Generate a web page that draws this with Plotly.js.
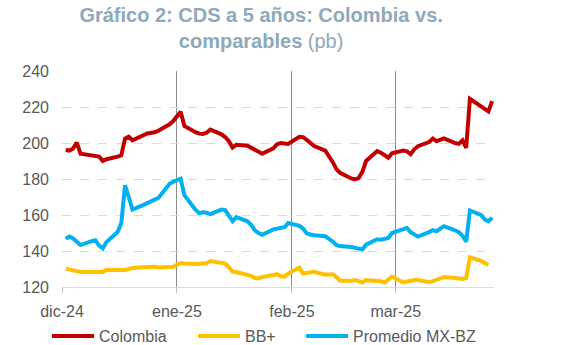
<!DOCTYPE html>
<html>
<head>
<meta charset="utf-8">
<script src="https://cdn.plot.ly/plotly-3.0.1.min.js"></script>
<style>html,body{margin:0;padding:0;background:#fff;}#chart{width:564px;height:345px;}</style>
</head>
<body>
<div id="chart"></div>
<script>
const dates = [
 '2024-12-02','2024-12-03','2024-12-04','2024-12-05','2024-12-06',
 '2024-12-09','2024-12-10','2024-12-11','2024-12-12','2024-12-13',
 '2024-12-16','2024-12-17','2024-12-18','2024-12-19','2024-12-20',
 '2024-12-23','2024-12-24','2024-12-26','2024-12-27',
 '2024-12-30','2024-12-31','2025-01-02','2025-01-03',
 '2025-01-06','2025-01-07','2025-01-08','2025-01-09','2025-01-10',
 '2025-01-13','2025-01-14','2025-01-15','2025-01-16','2025-01-17',
 '2025-01-20','2025-01-21','2025-01-22','2025-01-23','2025-01-24',
 '2025-01-27','2025-01-28','2025-01-29','2025-01-30','2025-01-31',
 '2025-02-03','2025-02-04','2025-02-05','2025-02-06','2025-02-07',
 '2025-02-10','2025-02-11','2025-02-12','2025-02-13','2025-02-14',
 '2025-02-17','2025-02-18','2025-02-19','2025-02-20','2025-02-21',
 '2025-02-24','2025-02-25','2025-02-26','2025-02-27','2025-02-28',
 '2025-03-03','2025-03-04','2025-03-05','2025-03-06','2025-03-07',
 '2025-03-10','2025-03-11','2025-03-12','2025-03-13','2025-03-14',
 '2025-03-17','2025-03-18','2025-03-19','2025-03-20','2025-03-21',
 '2025-03-24','2025-03-25','2025-03-26','2025-03-27'
];

const colombia = [
 196.1,195.8,197.0,200.2,194.0,
 193.2,193.2,192.5,190.0,191.0,
 192.4,193.2,202.4,203.5,201.5,
 204.5,205.3,206.0,206.8,
 210.4,212.2,217.4,209.5,
 206.0,205.2,205.0,205.7,207.4,
 204.8,203.3,201.0,197.5,199.0,
 198.5,197.5,196.3,195.0,194.0,
 197.0,199.3,200.0,199.5,199.5,
 203.4,203.2,201.7,200.0,198.3,
 195.8,193.0,189.5,185.5,183.4,
 180.3,179.8,180.5,184.0,190.0,
 195.5,194.6,193.5,191.8,194.3,
 195.8,195.4,193.8,196.5,198.2,
 200.5,202.5,201.0,202.0,202.6,
 200.0,199.5,201.5,197.3,224.5,
 220.0,218.5,217.5,223.3
];

const bbPlus = [
 130.2,129.6,129.2,128.5,128.3,
 128.4,128.3,128.4,128.4,129.6,
 129.3,129.1,129.5,130.0,130.5,
 131.0,131.1,131.3,130.8,
 131.3,131.3,133.3,133.0,
 132.8,132.8,133.0,133.2,134.4,
 133.6,133.0,131.0,128.5,128.3,
 127.0,126.2,125.0,124.8,125.5,
 126.8,127.1,126.0,125.8,127.5,
 130.8,127.5,127.8,128.3,128.4,
 126.8,127.0,127.1,125.5,123.5,
 123.5,123.9,123.3,122.5,123.8,
 123.7,123.2,122.5,123.9,125.8,
 122.5,123.0,123.9,123.9,123.9,
 122.7,123.3,124.2,124.8,125.5,
 125.0,124.6,124.5,125.0,136.5,
 134.5,133.3,132.2,null
];

const promedioMxBz = [
 146.8,148.0,147.0,144.8,143.3,
 145.5,146.0,143.0,141.5,145.0,
 150.5,155.5,176.5,170.0,163.0,
 165.6,166.5,168.3,169.5,
 177.3,178.5,180.2,171.0,
 163.0,161.0,161.5,161.3,160.5,
 163.0,162.7,160.0,156.5,158.8,
 156.5,154.5,151.5,150.0,149.0,
 152.0,152.3,152.6,153.2,155.5,
 154.0,152.5,149.8,149.2,148.8,
 148.2,147.0,145.3,143.2,142.8,
 142.2,141.8,141.2,140.8,143.5,
 146.5,146.3,146.6,147.2,150.0,
 152.0,152.8,150.5,149.0,148.0,
 150.5,151.6,151.0,152.5,153.8,
 151.5,150.5,148.5,145.2,162.5,
 160.0,157.5,156.5,158.5
];

const seriesNames = ['Colombia', 'BB+', 'Promedio MX-BZ'];
const tickDates = ['2024-12-01', '2025-01-01', '2025-02-01', '2025-03-01'];
const tickLabels = ['dic-24', 'ene-25', 'feb-25', 'mar-25'];
const yTicks = [120, 140, 160, 180, 200, 220, 240];

const colors = ['#C00000', '#FFC000', '#00B0F0'];
const values = [colombia, bbPlus, promedioMxBz];
const legendIds = ['legend', 'legend2', 'legend3'];
const legendX = [47, 193, 301];

const traces = values.map((v, i) => ({
  x: dates, y: v, type: 'scatter', mode: 'lines', name: seriesNames[i],
  legend: legendIds[i],
  line: {color: colors[i], width: 4, shape: 'linear'}
}));

const FONT = 'Liberation Sans, Arial, sans-serif';

const layout = {
  width: 564, height: 345,
  margin: {l: 62, r: 70, t: 71, b: 58, autoexpand: false},
  paper_bgcolor: '#ffffff', plot_bgcolor: '#ffffff',
  font: {family: FONT, size: 16, color: '#595959'},
  title: {
    text: '<b>Gráfico 2: CDS a 5 años: Colombia vs.<br>comparables</b> (pb)',
    font: {family: FONT, size: 20, color: '#8CAABA'},
    x: 0.463, xref: 'container', xanchor: 'center',
    y: 0.937, yref: 'container', yanchor: 'top'
  },
  xaxis: {
    type: 'date',
    range: ['2024-12-01', '2025-03-27 12:00'],
    tickmode: 'array', tickvals: tickDates, ticktext: tickLabels,
    showgrid: true, gridcolor: '#8c8c8c', gridwidth: 1,
    showline: true, linecolor: '#d9d9d9', linewidth: 1,
    ticks: 'outside', ticklen: 5, tickcolor: '#bfbfbf',
    ticklabelstandoff: 5,
    zeroline: false, fixedrange: true,
    tickfont: {size: 16, color: '#595959'}
  },
  yaxis: {
    range: [120, 240], tickmode: 'array', tickvals: yTicks,
    showgrid: true, gridcolor: '#d9d9d9', griddash: 'dash', gridwidth: 1,
    showline: false, zeroline: false, ticks: '',
    ticklabelstandoff: 12,
    tickfont: {size: 16, color: '#595959'}
  },
  showlegend: true
};

legendIds.forEach((id, i) => {
  layout[id] = {
    orientation: 'h', xref: 'container', yref: 'container',
    x: legendX[i] / 564, xanchor: 'left', y: 1 - 336 / 345, yanchor: 'middle',
    font: {size: 16, color: '#595959'}, itemwidth: 42,
    bgcolor: 'rgba(0,0,0,0)', borderwidth: 0
  };
});

Plotly.newPlot('chart', traces, layout, {displayModeBar: false, staticPlot: true});
</script>
</body>
</html>
